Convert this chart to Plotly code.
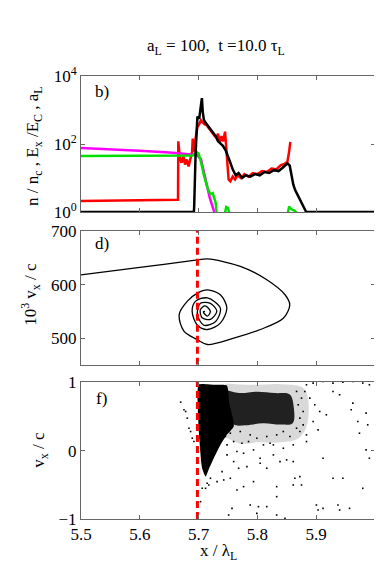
import plotly.graph_objects as go

# ---- panel b): density / field profiles (log scale) ----
red_x = [5.5, 5.60, 5.665, 5.6655, 5.668, 5.671, 5.674, 5.677, 5.680, 5.683, 5.686, 5.689, 5.690,
         5.692, 5.695, 5.698, 5.701, 5.704, 5.707, 5.710, 5.714, 5.718, 5.722, 5.726, 5.730,
         5.733, 5.736, 5.739, 5.742, 5.745, 5.747, 5.749, 5.751, 5.754, 5.758, 5.762, 5.766,
         5.772, 5.778, 5.785, 5.792, 5.800, 5.808, 5.816, 5.824, 5.832, 5.840, 5.846, 5.851,
         5.854, 5.856]
red_y = [2.1, 2.2, 2.3, 120, 40, 28, 45, 25, 35, 22, 40, 60, 145,
         60, 150, 320, 380, 500, 430, 380, 350, 280, 230, 180, 150,
         200, 110, 170, 120, 230, 80, 20, 9, 8, 11, 9, 12,
         10, 13, 11, 14, 13, 16, 15, 19, 18, 24, 26, 30,
         60, 115]

black_x = [5.5, 5.692, 5.6925, 5.695, 5.698, 5.701, 5.7035, 5.7056, 5.707, 5.709, 5.712, 5.716,
           5.721, 5.725, 5.729, 5.733, 5.737, 5.741, 5.746, 5.750, 5.754, 5.758, 5.763, 5.768,
           5.774, 5.780, 5.788, 5.796, 5.804, 5.812, 5.820, 5.828, 5.836, 5.843, 5.848, 5.851,
           5.855, 5.858, 5.861, 5.864, 5.868, 5.871, 5.874, 5.877, 5.880, 5.883, 6.0]
black_y = [1.0, 1.0, 1.5, 60, 640, 550, 1200, 2240, 900, 510, 420, 340,
           260, 220, 170, 120, 100, 90, 65, 45, 28, 18, 12, 14,
           10, 12, 11, 13, 12, 15, 14, 17, 16, 20, 24, 27,
           23, 12, 6.5, 4.5, 3.3, 2.5, 2.0, 1.6, 1.2, 1.0, 1.0]

magenta_x = [5.5, 5.55, 5.60, 5.65, 5.69, 5.697, 5.704, 5.711, 5.719, 5.7266]
magenta_y = [76, 70, 63, 56, 51, 48, 36, 10, 2.6, 1.0]

green_x = [5.5, 5.60, 5.69, 5.697, 5.700, 5.704, 5.709, 5.715, 5.720, 5.724, 5.727, 5.729,
           5.731, 5.744, 5.747, 5.750, 5.753, 5.851, 5.854, 5.858, 5.863, 5.868]
green_y = [44, 45, 46, 58, 52, 30, 12, 5.2, 3.3, 3.6, 2.2, 1.9,
           0.8, 0.8, 1.4, 1.3, 0.8, 0.8, 1.45, 1.2, 1.1, 0.9]

# ---- panel d): test particle phase-space orbit ----
orbit_x = [5.5, 5.60, 5.698, 5.715, 5.771, 5.816, 5.847, 5.855, 5.844, 5.805, 5.760, 5.715,
           5.698, 5.675, 5.667, 5.681, 5.698, 5.715, 5.737, 5.748, 5.737, 5.715, 5.698,
           5.689, 5.695, 5.715, 5.737, 5.729, 5.709, 5.698, 5.703, 5.720, 5.731, 5.720,
           5.706, 5.703, 5.711, 5.720, 5.715, 5.708, 5.711]
orbit_v = [618, 632, 646, 648, 634, 609, 581, 562, 537, 516, 500, 488,
           497, 513, 544, 569, 584, 590, 581, 556, 528, 516, 524,
           550, 569, 575, 556, 531, 524, 544, 565, 565, 550, 535,
           538, 553, 560, 550, 541, 549, 550]

x_front = 5.698  # dashed marker position

# ---- panel f): particle phase space x-vx ----
core_x = [5.699, 5.700, 5.712, 5.730, 5.748, 5.752, 5.760, 5.748, 5.737, 5.726, 5.717,
          5.712, 5.706, 5.702, 5.699]
core_v = [0.54, 0.96, 0.97, 0.96, 0.95, 0.70, 0.36, 0.23, 0.08, -0.11, -0.28,
          -0.38, -0.26, 0.08, 0.54]
hot_x = [5.748, 5.770, 5.800, 5.830, 5.855, 5.862, 5.860, 5.840, 5.810, 5.780, 5.760, 5.748]
hot_v = [0.88, 0.84, 0.86, 0.84, 0.82, 0.62, 0.40, 0.38, 0.40, 0.37, 0.38, 0.60]
halo_x = [5.745, 5.790, 5.840, 5.880, 5.885, 5.870, 5.840, 5.800, 5.770, 5.745]
halo_v = [0.98, 0.96, 0.97, 0.90, 0.40, 0.18, 0.12, 0.12, 0.10, 0.20]
dot_zx = [40, 50, 55, 60, 65, 70, 75, 80, 420, 440, 470, 500, 530, 560, 590, 610,
          430, 445, 460, 480, 500, 520, 555, 560, 575, 580, 600, 605, 420, 400, 440, 455,
          470, 500, 530, 590, 610, 600, 170, 190, 210, 215, 240, 260, 280, 300, 320, 330,
          340, 360, 380, 385, 400, 405, 250, 275, 300, 330, 355, 380, 195, 185, 330, 100,
          105, 125, 130, 150, 165, 180, 200, 210, 230, 260, 290, 310, 280, 225, 245, 200,
          180, 175, 190, 220, 250, 270, 300, 330, 350, 370, 390, 400, 410, 395, 405, 390,
          415, 410, 380, 350, 320, 420, 450, 470, 515, 550, 520, 455, 270, 230, 115, 120]
dot_zy = [72, 95, 100, 120, 150, 160, 180, 190, 20, 15, 10, 15, 12, 10, 15, 20,
          60, 80, 100, 110, 40, 50, 95, 75, 130, 165, 105, 140, 170, 160, 130, 155,
          240, 300, 300, 330, 240, 215, 305, 300, 335, 270, 265, 310, 255, 270, 230, 325,
          250, 245, 250, 300, 295, 320, 380, 385, 385, 355, 420, 320, 390, 410, 410, 370,
          330, 320, 300, 310, 280, 230, 250, 220, 225, 215, 200, 195, 240, 195, 190, 190,
          200, 175, 165, 160, 170, 180, 175, 170, 160, 175, 150, 120, 100, 80, 60, 40,
          40, 140, 200, 210, 200, 190, 380, 390, 380, 390, 395, 395, 405, 325, 330, 315]
dot_x = [5.647 + zx / 1776 for zx in dot_zx]
dot_v = [1.059 - zy / 204.9 for zy in dot_zy]

font = "Liberation Serif"
fs = 17
fig = go.Figure()

fig.add_trace(go.Scatter(x=red_x, y=red_y, mode="lines", line=dict(color="#ff0000", width=2.5), xaxis="x", yaxis="y"))
fig.add_trace(go.Scatter(x=magenta_x, y=magenta_y, mode="lines", line=dict(color="#ff00ff", width=2.5), xaxis="x", yaxis="y"))
fig.add_trace(go.Scatter(x=green_x, y=green_y, mode="lines", line=dict(color="#00e000", width=2.5), xaxis="x", yaxis="y"))
fig.add_trace(go.Scatter(x=black_x, y=black_y, mode="lines", line=dict(color="black", width=2.5), xaxis="x", yaxis="y"))

fig.add_trace(go.Scatter(x=orbit_x, y=orbit_v, mode="lines", line=dict(color="black", width=1.3, shape="spline", smoothing=0.9),
                         xaxis="x2", yaxis="y2"))
fig.add_trace(go.Scatter(x=[x_front, x_front], y=[450, 700], mode="lines",
                         line=dict(color="#ff0000", width=3, dash="7px,4px"), xaxis="x2", yaxis="y2"))

fig.add_trace(go.Scatter(x=halo_x, y=halo_v, mode="lines", fill="toself", fillcolor="rgba(0,0,0,0.15)",
                         line=dict(width=0, shape="spline"), xaxis="x3", yaxis="y3"))
fig.add_trace(go.Scatter(x=hot_x, y=hot_v, mode="lines", fill="toself", fillcolor="rgba(0,0,0,0.85)",
                         line=dict(width=0, shape="spline"), xaxis="x3", yaxis="y3"))
fig.add_trace(go.Scatter(x=core_x, y=core_v, mode="lines", fill="toself", fillcolor="black",
                         line=dict(width=0, shape="spline", smoothing=0.6), xaxis="x3", yaxis="y3"))
fig.add_trace(go.Scatter(x=dot_x, y=dot_v, mode="markers", marker=dict(color="black", size=1.6, symbol="square"),
                         xaxis="x3", yaxis="y3"))
fig.add_trace(go.Scatter(x=[x_front, x_front], y=[-1, 1], mode="lines",
                         line=dict(color="#ff0000", width=3, dash="7px,4px"), xaxis="x3", yaxis="y3"))

xticks = [5.5, 5.6, 5.7, 5.8, 5.9]
common = dict(showline=True, linecolor="#666666", linewidth=1, mirror="ticks", ticks="inside",
              ticklen=4, tickcolor="#666666", showgrid=False, zeroline=False,
              tickfont=dict(family=font, size=fs, color="black"))
fig.update_layout(
    width=382, height=566, showlegend=False,
    paper_bgcolor="white", plot_bgcolor="white",
    margin=dict(l=73, r=15, t=68, b=55),
    font=dict(family=font, size=fs, color="black"),
    xaxis=dict(domain=[0, 1], range=[5.5, 6.0], tickvals=xticks, showticklabels=False, anchor="y", **common),
    yaxis=dict(domain=[0.693, 1.0], type="log", range=[0, 4], tickvals=[1, 100, 10000],
               ticktext=["10<sup>0</sup>", "10<sup>2</sup>", "10<sup>4</sup>"], anchor="x", **common),
    xaxis2=dict(domain=[0, 1], range=[5.5, 6.0], tickvals=xticks, showticklabels=False, anchor="y2", **common),
    yaxis2=dict(domain=[0.348, 0.650], range=[450, 700], tickvals=[500, 600, 700], anchor="x2", **common),
    xaxis3=dict(domain=[0, 1], range=[5.5, 6.0], tickvals=xticks, anchor="y3", **common),
    yaxis3=dict(domain=[0, 0.309], range=[-1, 1], tickvals=[-1, 0, 1], anchor="x3", **common),
)

annots = [
    dict(x=0.459, y=1.066, text="a<sub>L</sub> = 100,  t =10.0 τ<sub>L</sub>", xanchor="center", yanchor="middle"),
    dict(x=-0.16, y=0.842, text="n / n<sub>c</sub> , E<sub>x</sub> /E<sub>C</sub> , a<sub>L</sub>", textangle=-90,
         xanchor="center", yanchor="middle"),
    dict(x=-0.17, y=0.506, text="10<sup>3</sup> v<sub>x</sub> / c", textangle=-90, xanchor="center", yanchor="middle"),
    dict(x=-0.14, y=0.156, text="v<sub>x</sub> / c", textangle=-90, xanchor="center", yanchor="middle"),
    dict(x=0.466, y=-0.074, text="x / λ<sub>L</sub>", xanchor="center", yanchor="middle"),
    dict(x=0.04, y=0.966, text="b)", xanchor="left", yanchor="middle"),
    dict(x=0.04, y=0.621, text="d)", xanchor="left", yanchor="middle"),
    dict(x=0.045, y=0.271, text="f)", xanchor="left", yanchor="middle"),
]
for a in annots:
    fig.add_annotation(xref="paper", yref="paper", showarrow=False, font=dict(family=font, size=fs, color="black"), **a)

fig.write_html("out.html")
